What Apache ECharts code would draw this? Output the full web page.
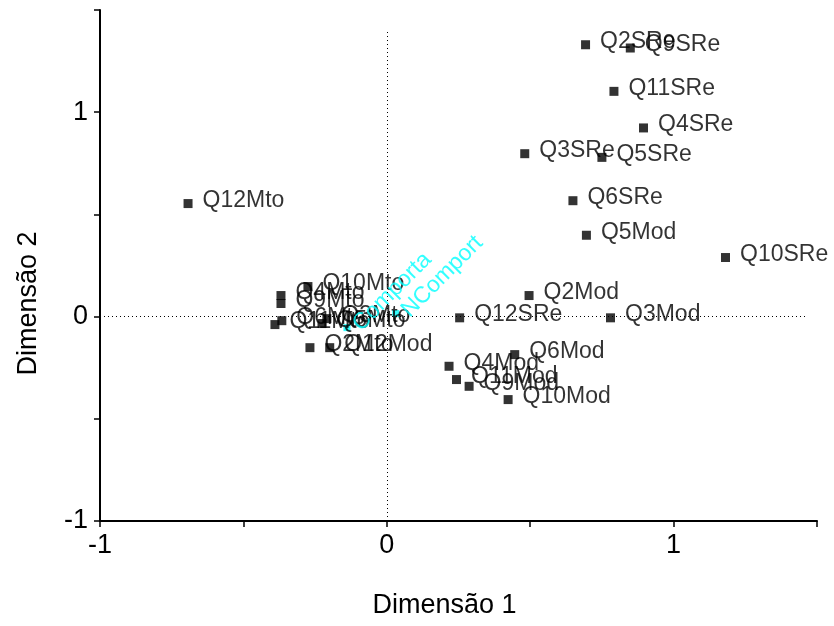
<!DOCTYPE html>
<html>
<head>
<meta charset="utf-8">
<script src="https://cdn.jsdelivr.net/npm/echarts@6/dist/echarts.min.js"></script>
<style>html,body{margin:0;padding:0;background:#fff}#c{width:834px;height:626px}</style>
</head>
<body>
<div id="c"></div>
<script>
// Category labels and coordinates (Dimensão 1, Dimensão 2)
var mtoNames = ['Q12Mto','Q10Mto','Q4Mto','Q9Mto','Q11Mto','Q6Mto','Q3Mto','Q5Mto','Q2Mto'];
var mtoX = [-0.693,-0.275,-0.369,-0.369,-0.390,-0.366,-0.209,-0.226,-0.268];
var mtoY = [0.553,0.147,0.103,0.064,-0.039,-0.020,-0.010,-0.034,-0.152];

var modNames = ['Q5Mod','Q2Mod','Q3Mod','Q6Mod','Q4Mod','Q11Mod','Q9Mod','Q10Mod','Q12Mod'];
var modX = [0.696,0.496,0.780,0.446,0.217,0.243,0.287,0.423,-0.199];
var modY = [0.398,0.103,-0.006,-0.186,-0.243,-0.308,-0.341,-0.406,-0.152];

var sreNames = ['Q2SRe','Q9SRe','Q11SRe','Q4SRe','Q3SRe','Q5SRe','Q6SRe','Q10SRe','Q12SRe'];
var sreX = [0.693,0.849,0.792,0.895,0.481,0.750,0.649,1.181,0.254];
var sreY = [1.330,1.314,1.102,0.923,0.797,0.779,0.567,0.289,-0.006];

var supNames = ['Comporta','NComport'];
var supX = [-0.139,0.031];
var supY = [-0.054,0.015];

var xTicks = [-1, 0, 1];
var yTicks = [-1, 0, 1];
var refV = [[0,-1],[0,1.4]];
var refH = [[-1,0],[1.46,0]];

function pts(n, xs, ys){ return n.map(function(s,i){ return {name:s, value:[xs[i], ys[i]]}; }); }

var FONT = '"Liberation Sans", Arial, sans-serif';
var labelBlack = {show:true, position:'right', distance:10, offset:[0,-3], formatter:'{b}', color:'#000', fontSize:23, fontFamily:FONT};

var chart = echarts.init(document.getElementById('c'));
chart.setOption({
  animation:false,
  backgroundColor:'#fff',
  grid:{left:100, right:17, top:10, bottom:105},
  xAxis:{
    type:'value', min:-1, max:1.5, interval:0.5,
    name:'Dimensão 1', nameLocation:'middle', nameGap:71,
    nameTextStyle:{color:'#000', fontSize:27, fontFamily:FONT, padding:[0,28,0,0]},
    axisLine:{show:true, onZero:false, lineStyle:{color:'#000', width:2}},
    axisTick:{show:true, length:6, lineStyle:{color:'#000', width:1.5}},
    axisLabel:{color:'#000', fontSize:27, fontFamily:FONT, margin:11,
      formatter:function(v){ return xTicks.indexOf(v) >= 0 ? String(v) : ''; }},
    splitLine:{show:false}
  },
  yAxis:{
    type:'value', min:-1, max:1.5, interval:0.5,
    name:'Dimensão 2', nameLocation:'middle', nameGap:58,
    nameTextStyle:{color:'#000', fontSize:27, fontFamily:FONT, padding:[0,76,0,0]},
    axisLine:{show:true, onZero:false, lineStyle:{color:'#000', width:2}},
    axisTick:{show:true, length:6, lineStyle:{color:'#000', width:1.5}},
    axisLabel:{color:'#000', fontSize:27, fontFamily:FONT, margin:12,
      formatter:function(v){ return yTicks.indexOf(v) >= 0 ? String(v) : ''; }},
    splitLine:{show:false}
  },
  series:[
    {type:'scatter', symbol:'rect', symbolSize:9, itemStyle:{color:'#000'},
     data:pts(mtoNames, mtoX, mtoY), label:labelBlack,
     markLine:{silent:true, symbol:'none', label:{show:false},
       lineStyle:{color:'#000', type:[1,3], width:1},
       data:[[{coord:refV[0]},{coord:refV[1]}],[{coord:refH[0]},{coord:refH[1]}]]}},
    {type:'scatter', symbol:'rect', symbolSize:9, itemStyle:{color:'#000'},
     data:pts(modNames, modX, modY), label:labelBlack},
    {type:'scatter', symbol:'rect', symbolSize:9, itemStyle:{color:'#000'},
     data:pts(sreNames, sreX, sreY), label:labelBlack},
    {type:'scatter', symbol:'rect', symbolSize:7, itemStyle:{color:'#00FFFF'},
     data:pts(supNames, supX, supY),
     label:{show:true, position:'right', distance:6, rotate:45, formatter:'{b}', color:'#00FFFF', fontSize:23, fontFamily:FONT}}
  ]
});
</script>
</body>
</html>
